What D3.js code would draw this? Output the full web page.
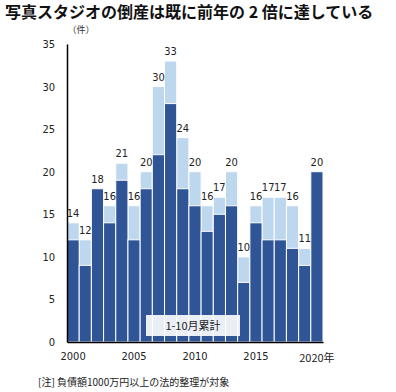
<!DOCTYPE html>
<html>
<head>
<meta charset="utf-8">
<script src="https://cdn.jsdelivr.net/npm/d3@7"></script>
<style>
  body { margin: 0; background: #fff; }
  svg { display: block; }
  .num { font-family: "DejaVu Sans Condensed", "DejaVu Sans", sans-serif; font-size: 11px; fill: #222; }
  .jp { font-family: "Noto Sans CJK JP", sans-serif; }
</style>
</head>
<body>
<svg id="chart" width="396" height="392"></svg>
<script>
// years, Jan-Oct count, full-year total
const years = d3.range(2000, 2021);
const janOct = [12, 9, 18, 14, 19, 12, 18, 22, 28, 18, 16, 13, 15, 16, 7, 14, 12, 12, 11, 9, 20];
const totals = [14, 12, 18, 16, 21, 16, 20, 30, 33, 24, 20, 16, 17, 20, 10, 16, 17, 17, 16, 11, 20];
const yTicks = [0, 5, 10, 15, 20, 25, 30, 35];
const xTicks = [2000, 2005, 2010, 2015, 2020];

const dark = "#2f5597";
const light = "#bdd7ee";

const svg = d3.select("#chart");

const x = d3.scaleBand().domain(years).range([67, 323]).padding(0);
const y = d3.scaleLinear().domain([0, 35]).range([342, 44]);

// title
svg.append("text")
  .attr("class", "jp")
  .attr("x", 5).attr("y", 18)
  .style("font-size", "16px").style("font-weight", "bold").attr("fill", "#111")
  .text("写真スタジオの倒産は既に前年の 2 倍に達している");

svg.append("text")
  .attr("class", "jp")
  .attr("x", 81).attr("y", 33)
  .attr("text-anchor", "middle")
  .style("font-size", "9px").attr("fill", "#333")
  .text("（件）");

// light part (rest of year) drawn full height, dark on top
svg.append("g").selectAll("rect")
  .data(years)
  .join("rect")
  .attr("x", d => x(d))
  .attr("width", x.bandwidth())
  .attr("y", (d, i) => y(totals[i]))
  .attr("height", (d, i) => y(0) - y(totals[i]))
  .attr("fill", light)
  .attr("stroke", "#fff").attr("stroke-width", 1);

svg.append("g").selectAll("rect")
  .data(years)
  .join("rect")
  .attr("x", d => x(d))
  .attr("width", x.bandwidth())
  .attr("y", (d, i) => y(janOct[i]))
  .attr("height", (d, i) => y(0) - y(janOct[i]))
  .attr("fill", dark)
  .attr("stroke", "#fff").attr("stroke-width", 1);

// total labels
svg.append("g").selectAll("text")
  .data(years)
  .join("text")
  .attr("class", "num")
  .attr("x", d => x(d) + x.bandwidth() / 2)
  .attr("y", (d, i) => y(totals[i]) - 6)
  .attr("text-anchor", "middle")
  .text((d, i) => totals[i]);

// legend box
svg.append("rect")
  .attr("x", 146).attr("y", 315)
  .attr("width", 94).attr("height", 21)
  .attr("fill", "#fff").attr("opacity", 0.9);
svg.append("text")
  .attr("class", "jp")
  .attr("x", 193).attr("y", 330)
  .attr("text-anchor", "middle")
  .style("font-size", "11px").attr("fill", "#222")
  .text("1-10月累計");

// axes
const yAxis = svg.append("g")
  .attr("transform", "translate(67,0)")
  .call(d3.axisLeft(y).tickValues(yTicks).tickSize(0).tickPadding(12));
yAxis.select(".domain").attr("stroke", "#000").attr("stroke-width", 1.5);
yAxis.selectAll("text").attr("class", "num");

const xAxis = svg.append("g")
  .attr("transform", "translate(0,342)")
  .call(d3.axisBottom(x).tickValues(xTicks).tickSize(0).tickPadding(10)
    .tickFormat(d => d === 2020 ? d + "年" : d));
xAxis.select(".domain").attr("stroke", "#000").attr("stroke-width", 1.5);
xAxis.selectAll("text").attr("class", "num")
  .filter(d => d === 2020).attr("y", 12).classed("jp", true);

// note
svg.append("text")
  .attr("class", "jp")
  .attr("x", 38).attr("y", 386)
  .style("font-size", "10px").attr("fill", "#222")
  .text("[注] 負債額1000万円以上の法的整理が対象");
</script>
</body>
</html>
